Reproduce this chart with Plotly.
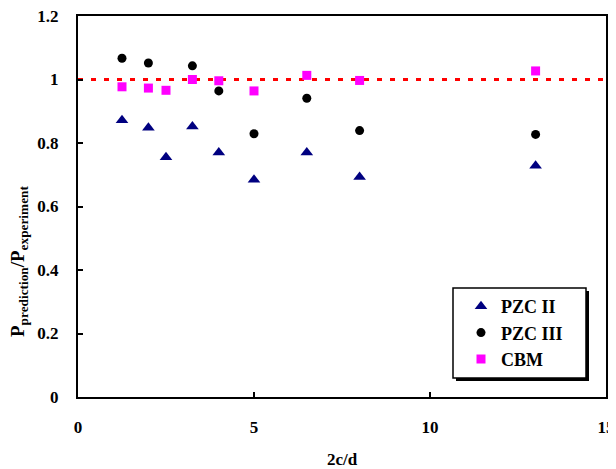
import plotly.graph_objects as go

# data
x_pzc2 = [1.25, 2, 2.5, 3.25, 4, 5, 6.5, 8, 13]
y_pzc2 = [0.872, 0.848, 0.755, 0.852, 0.770, 0.684, 0.770, 0.693, 0.728]
x_pzc3 = [1.25, 2, 3.25, 4, 5, 6.5, 8, 13]
y_pzc3 = [1.067, 1.052, 1.043, 0.964, 0.829, 0.941, 0.839, 0.827]
x_cbm = [1.25, 2, 2.5, 3.25, 4, 5, 6.5, 8, 13]
y_cbm = [0.977, 0.973, 0.966, 1.0, 0.996, 0.964, 1.013, 0.997, 1.027]
ref_x = [0, 15]
ref_y = [1, 1]
x_ticks = [0, 5, 10, 15]
y_ticks = [0, 0.2, 0.4, 0.6, 0.8, 1, 1.2]
y_tick_text = ["0", "0.2", "0.4", "0.6", "0.8", "1", "1.2"]

# page body has an 8px margin; work in screen pixels and subtract it
OFF = 8
W, H = 616 - OFF, 469 - OFF
SL, SR, ST, SB = 78, 606, 16, 397  # plot area in screen pixels
L, R, T, B = SL - OFF, SR - OFF, ST - OFF, SB - OFF
FONT = "Liberation Serif, Times New Roman, serif"

fig = go.Figure()
fig.add_trace(go.Scatter(x=ref_x, y=ref_y, mode="lines", showlegend=False,
                         line=dict(color="#FF0000", width=3, dash="5px,8px")))
fig.add_trace(go.Scatter(x=x_pzc2, y=y_pzc2, mode="markers", name="PZC II",
                         marker=dict(symbol="triangle-up", size=11, color="#000080")))
fig.add_trace(go.Scatter(x=x_pzc3, y=y_pzc3, mode="markers", name="PZC III",
                         marker=dict(symbol="circle", size=9, color="#000000")))
fig.add_trace(go.Scatter(x=x_cbm, y=y_cbm, mode="markers", name="CBM",
                         marker=dict(symbol="square", size=9, color="#FF00FF")))

def px_x(p):
    return (p - SL) / (SR - SL)

def px_y(p):
    return (SB - p) / (SB - ST)

# legend box with shadow
fig.add_shape(type="rect", xref="paper", yref="paper", layer="above",
              x0=px_x(456), x1=px_x(589), y0=px_y(381), y1=px_y(291),
              fillcolor="#000000", line=dict(width=0))
fig.add_shape(type="rect", xref="paper", yref="paper", layer="above",
              x0=px_x(453), x1=px_x(586), y0=px_y(378), y1=px_y(288),
              fillcolor="#FFFFFF", line=dict(color="#000000", width=1.5))

fig.add_annotation(text="<b>P<sub>prediction</sub>/P<sub>experiment</sub></b>",
                   xref="paper", yref="paper", x=px_x(19), y=px_y(262),
                   textangle=-90, showarrow=False, xanchor="center", yanchor="middle",
                   font=dict(family=FONT, size=19, color="#000000"))

axis_common = dict(showgrid=False, zeroline=False, showline=True, linecolor="#000000",
                   linewidth=2, mirror=True, ticks="inside", ticklen=5, tickwidth=1.5,
                   tickcolor="#000000", automargin=False, ticklabeloverflow="allow",
                   tickfont=dict(family=FONT, size=17, color="#000000", weight="bold"))

fig.update_xaxes(range=[0, 15], tickvals=x_ticks, ticklabelstandoff=14,
                 title=dict(text="<b>2c/d</b>", standoff=38,
                            font=dict(family=FONT, size=17, color="#000000")),
                 **axis_common)
fig.update_yaxes(range=[0, 1.2], tickvals=y_ticks, ticktext=y_tick_text,
                 ticklabelstandoff=14, **axis_common)

fig.update_layout(
    width=W, height=H,
    margin=dict(l=L, r=W - R, t=T, b=H - B),
    paper_bgcolor="#FFFFFF", plot_bgcolor="#FFFFFF",
    legend=dict(x=px_x(461), y=px_y(288), xanchor="left", yanchor="top",
                bgcolor="rgba(0,0,0,0)", borderwidth=0,
                font=dict(family=FONT, size=18, color="#000000", weight="bold"),
                tracegroupgap=0),
)

fig.write_html("out.html")
